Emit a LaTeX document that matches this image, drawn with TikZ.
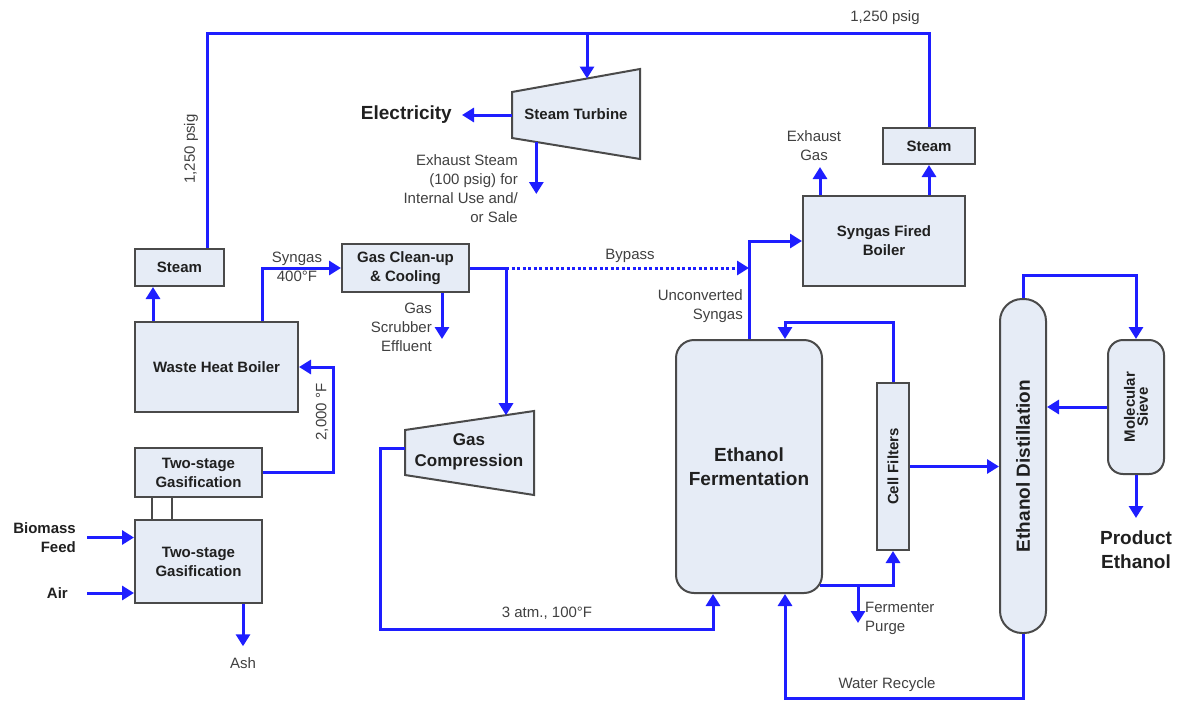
\documentclass[tikz,border=0pt]{standalone}
\usepackage{fontspec}
\setmainfont{Liberation Sans}
\usetikzlibrary{arrows.meta,calc}
\definecolor{colflow}{HTML}{1E1EFF}
\definecolor{colfill}{HTML}{E6ECF6}
\definecolor{coledge}{HTML}{4A4A4A}
\definecolor{coltext}{HTML}{404040}
\definecolor{coltitle}{HTML}{202020}

\begin{document}
\begin{tikzpicture}[
  x=1pt, y=-1pt,
  font=\fontsize{15}{19}\selectfont,
  unit/.style={draw=coledge,fill=colfill,line width=2pt,inner sep=0pt,
    align=center,text=coltitle,font=\fontsize{15}{19}\selectfont\bfseries},
  pipe/.style={draw=colflow,line width=3pt},
  head/.style={pipe,-{Triangle[length=12pt,width=14pt]}},
  bypass/.style={head,dash pattern=on 3pt off 2.5pt},
  link/.style={draw=coledge,line width=1.8pt},
  lbl/.style={text=coltext,align=center,inner sep=0pt},
  strong/.style={lbl,text=coltitle,font=\fontsize{15}{19}\selectfont\bfseries},
  big/.style={lbl,text=coltitle,font=\fontsize{19}{24}\selectfont\bfseries},
]
  \useasboundingbox (0,0) rectangle (1180,704);

  % ---------------- gasification side ----------------
  \node[unit,minimum width=89pt,minimum height=37pt]  (steamL) at (179.5,267.5) {Steam};
  \node[unit,minimum width=163pt,minimum height=90pt] (whb)    at (216.5,367)   {Waste Heat Boiler};
  \node[unit,minimum width=127pt,minimum height=49pt] (gasup)  at (198.5,472.5) {Two-stage\\Gasification};
  \node[unit,minimum width=127pt,minimum height=83pt] (gaslow) at (198.5,561.5) {Two-stage\\Gasification};
  \node[unit,minimum width=127pt,minimum height=48pt] (clean)  at (405.5,268)   {Gas Clean-up\\\& Cooling};

  \node[strong,anchor=east,align=right] (bio) at (76,537.5) {Biomass\\Feed};
  \node[strong,anchor=east] (air) at (68,593) {Air};
  \node[lbl] (ash) at (243,663) {Ash};

  \draw[link] ($(gasup.south)+(-46.5,0)$) -- ($(gaslow.north)+(-46.5,0)$);
  \draw[link] ($(gasup.south)+(-26.5,0)$) -- ($(gaslow.north)+(-26.5,0)$);
  \draw[head] ($(bio.east)+(11,0)$) -- (bio.east -| gaslow.west);
  \draw[head] ($(air.east)+(19,0)$) -- (air.east -| gaslow.west);
  \draw[head] (gaslow.south -| ash) -- ($(ash.north)+(0,-11)$);

  \coordinate (hot) at (333,0);
  \draw[head] (gasup.east) -| (hot |- whb.east) -- (whb.east);
  \node[lbl,rotate=90] (hotT) at (322,412) {2,000 °F};
  \draw[head] ($(whb.north)+(-63.5,0)$) -- ($(steamL.south)+(-26.5,0)$);
  \draw[head] ($(whb.north)+(45.5,0)$) |- (clean.west);
  \node[lbl] (synT) at (297,267) {Syngas\\400°F};
  \draw[head] ($(clean.south)+(36.5,0)$) -- ++(0,46);
  \node[lbl,anchor=east,align=right] (scrub) at (432,327) {Gas\\Scrubber\\Effluent};

  % ---------------- steam turbine ----------------
  \draw[unit] (512,92) coordinate (st-a) -- (640,69) coordinate (st-b)
    -- (640,159) coordinate (st-c) -- (512,138) coordinate (st-d) -- cycle;
  \node[strong] (stt) at (576,114) {Steam Turbine};
  \node[big,anchor=east] (elec) at (452,115) {Electricity};
  \node[lbl,anchor=east,align=right] (exs) at (518,189)
    {Exhaust Steam\\(100 psig) for\\Internal Use and/\\or Sale};
  \coordinate (tin) at ($(st-a)!0.586!(st-b)$);
  \coordinate (tout) at ($(st-d)!0.19!(st-c)$);
  \coordinate (exs-end) at (536,194);
  \draw[head] (elec.east -| st-a) -- ($(elec.east)+(10,0)$);
  \draw[head] (tout) -- (tout |- exs-end);

  % ---------------- syngas fired boiler ----------------
  \node[unit,minimum width=92pt,minimum height=36pt]  (steamR) at (929,146) {Steam};
  \node[unit,minimum width=162pt,minimum height=90pt] (sfb)    at (884,241) {Syngas Fired\\Boiler};
  \node[lbl] (exg) at (814,145.5) {Exhaust\\Gas};
  \draw[head] ($(sfb.north west)+(18,0)$) -- ++(0,-28);
  \draw[head] (sfb.north -| steamR) -- (steamR.south);

  % 1,250 psig header
  \coordinate (hdr) at (0,33);
  \draw[pipe] ($(steamL.north)+(27.5,0)$) |- (hdr -| steamR.north) -- (steamR.north);
  \draw[head] (tin |- hdr) -- (tin);
  \node[lbl] (hdrT) at (885,18) {1,250 psig};
  \node[lbl,rotate=90] (hdrL) at (191,149) {1,250 psig};

  % ---------------- compression + fermentation ----------------
  \draw[unit] (405,430) coordinate (gc-a) -- (534,411) coordinate (gc-b)
    -- (534,495) coordinate (gc-c) -- (405,475) coordinate (gc-d) -- cycle;
  \node[strong,font=\fontsize{17}{21}\selectfont\bfseries] (gcT) at (469,452) {Gas\\Compression};
  \node[unit,rounded corners=18pt,minimum width=146pt,minimum height=253pt,
    font=\fontsize{19}{24}\selectfont\bfseries] (ferm) at (749,466.5) {Ethanol\\Fermentation};

  \coordinate (jct) at ($(clean.east)+(36,0)$);
  \coordinate (gc-in) at ($(gc-a)!0.778!(gc-b)$);
  \draw[pipe] (clean.east) -- (jct);
  \draw[bypass] (jct) -- (ferm.north |- jct);
  \node[lbl] (byT) at (630,256) {Bypass};
  \draw[head] (jct) -- (jct |- gc-in);
  \draw[head] (ferm.north) |- (sfb.west);
  \node[lbl,anchor=east,align=right] (uncT) at (743,306.5) {Unconverted\\Syngas};

  \draw[head] ($(gc-a)!0.4!(gc-d)$) -- ++(-25,0) |- ($(ferm.south)+(-36,35)$) -- ($(ferm.south)+(-36,0)$);
  \node[lbl] (atmT) at (547,613) {3 atm., 100°F};

  % ---------------- filters, distillation, sieve ----------------
  \node[unit,minimum width=32pt,minimum height=167pt] (cellf) at (893,466.5) {};
  \node[strong,rotate=90] (cellT) at (cellf) {Cell Filters};
  \node[unit,rounded corners=22pt,minimum width=46pt,minimum height=334pt] (dist) at (1023,466) {};
  \node[big,rotate=90] (distT) at (dist) {Ethanol Distillation};
  \node[unit,rounded corners=15pt,minimum width=56pt,minimum height=134pt] (sieve) at (1136,407) {};
  \node[strong,rotate=90,font=\fontsize{15}{13}\selectfont\bfseries] (sieveT) at (sieve) {Molecular\\Sieve};
  \node[big] (prod) at (1136,550) {Product\\Ethanol};

  \draw[head] ($(ferm.south east)+(-3,-9)$) -| (cellf.south);
  \draw[head] ($(ferm.south east)+(35,-9)$) -- ++(0,38);
  \node[lbl,anchor=west,align=left] (purT) at (865,618.5) {Fermenter\\Purge};
  \draw[head] (cellf.north) |- ($(ferm.north)+(36,-17)$) -- ($(ferm.north)+(36,0)$);
  \draw[head] (cellf.east) -- (cellf.east -| dist.west);
  \draw[head] (dist.north) |- ($(sieve.north)+(0,-64)$) -- (sieve.north);
  \draw[head] (sieve.west) -- (sieve.west -| dist.east);
  \draw[head] (sieve.south) -- ++(0,43);
  \draw[head] (dist.south) |- ($(ferm.south)+(36,104)$) -- ($(ferm.south)+(36,0)$);
  \node[lbl] (watT) at (887,685) {Water Recycle};
\end{tikzpicture}
\end{document}
